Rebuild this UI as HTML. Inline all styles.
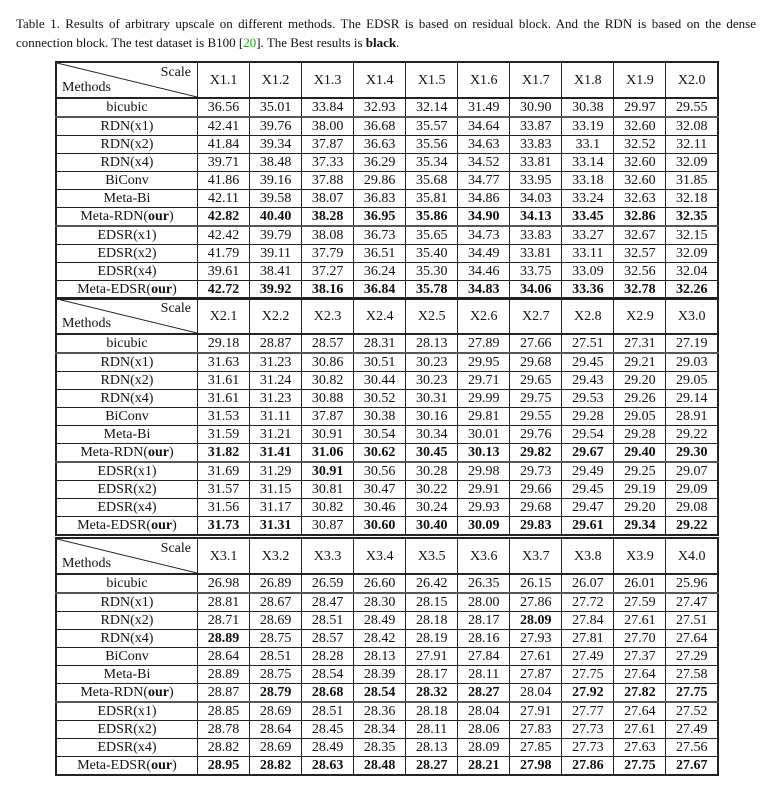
<!DOCTYPE html>
<html><head><meta charset="utf-8">
<style>
body{margin:0;background:#fff;width:776px;height:789px;overflow:hidden;font-family:"Liberation Serif",serif;color:#111}
.cap{position:absolute;left:16px;width:740px;font-size:13px;line-height:19px;white-space:nowrap}
.l1{top:14px;text-align:justify;text-align-last:justify}
.l2{top:33px}
.cap .ref{color:#2a2}
table{position:absolute;left:55px;width:664px;border-collapse:collapse;font-size:14px;table-layout:fixed}
td{border:1px solid #222;height:17px;padding:0;text-align:center;line-height:17px}
td.m{width:140px}
tr.h td{height:34px;border-bottom:2px solid #222}
tr.sep td{border-bottom:2px solid #555}
table{border:2px solid #222}
.b{font-weight:bold}
.hc{position:relative}
.hc svg{position:absolute;left:0;top:0}
.hc .s{position:absolute;right:6px;top:2px;line-height:16px}
.hc .me{position:absolute;left:5px;bottom:1px;line-height:16px}
</style></head><body>
<div class="cap l1">Table 1. Results of arbitrary upscale on different methods. The EDSR is based on residual block. And the RDN is based on the dense</div>
<div class="cap l2">connection block. The test dataset is B100 [<span class="ref">20</span>]. The Best results is <b>black</b>.</div>
<div id="root"></div>
<script>
const methods=["bicubic","RDN(x1)","RDN(x2)","RDN(x4)","BiConv","Meta-Bi","Meta-RDN(our)","EDSR(x1)","EDSR(x2)","EDSR(x4)","Meta-EDSR(our)"];
const scales1=["X1.1","X1.2","X1.3","X1.4","X1.5","X1.6","X1.7","X1.8","X1.9","X2.0"];
const scales2=["X2.1","X2.2","X2.3","X2.4","X2.5","X2.6","X2.7","X2.8","X2.9","X3.0"];
const scales3=["X3.1","X3.2","X3.3","X3.4","X3.5","X3.6","X3.7","X3.8","X3.9","X4.0"];
const vals1=[
["36.56","35.01","33.84","32.93","32.14","31.49","30.90","30.38","29.97","29.55"],
["42.41","39.76","38.00","36.68","35.57","34.64","33.87","33.19","32.60","32.08"],
["41.84","39.34","37.87","36.63","35.56","34.63","33.83","33.1","32.52","32.11"],
["39.71","38.48","37.33","36.29","35.34","34.52","33.81","33.14","32.60","32.09"],
["41.86","39.16","37.88","29.86","35.68","34.77","33.95","33.18","32.60","31.85"],
["42.11","39.58","38.07","36.83","35.81","34.86","34.03","33.24","32.63","32.18"],
["42.82","40.40","38.28","36.95","35.86","34.90","34.13","33.45","32.86","32.35"],
["42.42","39.79","38.08","36.73","35.65","34.73","33.83","33.27","32.67","32.15"],
["41.79","39.11","37.79","36.51","35.40","34.49","33.81","33.11","32.57","32.09"],
["39.61","38.41","37.27","36.24","35.30","34.46","33.75","33.09","32.56","32.04"],
["42.72","39.92","38.16","36.84","35.78","34.83","34.06","33.36","32.78","32.26"]];
const vals2=[
["29.18","28.87","28.57","28.31","28.13","27.89","27.66","27.51","27.31","27.19"],
["31.63","31.23","30.86","30.51","30.23","29.95","29.68","29.45","29.21","29.03"],
["31.61","31.24","30.82","30.44","30.23","29.71","29.65","29.43","29.20","29.05"],
["31.61","31.23","30.88","30.52","30.31","29.99","29.75","29.53","29.26","29.14"],
["31.53","31.11","37.87","30.38","30.16","29.81","29.55","29.28","29.05","28.91"],
["31.59","31.21","30.91","30.54","30.34","30.01","29.76","29.54","29.28","29.22"],
["31.82","31.41","31.06","30.62","30.45","30.13","29.82","29.67","29.40","29.30"],
["31.69","31.29","30.91","30.56","30.28","29.98","29.73","29.49","29.25","29.07"],
["31.57","31.15","30.81","30.47","30.22","29.91","29.66","29.45","29.19","29.09"],
["31.56","31.17","30.82","30.46","30.24","29.93","29.68","29.47","29.20","29.08"],
["31.73","31.31","30.87","30.60","30.40","30.09","29.83","29.61","29.34","29.22"]];
const vals3=[
["26.98","26.89","26.59","26.60","26.42","26.35","26.15","26.07","26.01","25.96"],
["28.81","28.67","28.47","28.30","28.15","28.00","27.86","27.72","27.59","27.47"],
["28.71","28.69","28.51","28.49","28.18","28.17","28.09","27.84","27.61","27.51"],
["28.89","28.75","28.57","28.42","28.19","28.16","27.93","27.81","27.70","27.64"],
["28.64","28.51","28.28","28.13","27.91","27.84","27.61","27.49","27.37","27.29"],
["28.89","28.75","28.54","28.39","28.17","28.11","27.87","27.75","27.64","27.58"],
["28.87","28.79","28.68","28.54","28.32","28.27","28.04","27.92","27.82","27.75"],
["28.85","28.69","28.51","28.36","28.18","28.04","27.91","27.77","27.64","27.52"],
["28.78","28.64","28.45","28.34","28.11","28.06","27.83","27.73","27.61","27.49"],
["28.82","28.69","28.49","28.35","28.13","28.09","27.85","27.73","27.63","27.56"],
["28.95","28.82","28.63","28.48","28.27","28.21","27.98","27.86","27.75","27.67"]];
const all=[0,1,2,3,4,5,6,7,8,9];
const bold1={6:all,10:all};
const bold2={6:all,7:[2],10:[0,1,3,4,5,6,7,8,9]};
const bold3={2:[6],3:[0],6:[1,2,3,4,5,7,8,9],10:all};
const tables=[[scales1,vals1,bold1,61],[scales2,vals2,bold2,297],[scales3,vals3,bold3,537]];
const root=document.getElementById('root');
tables.forEach((t,ti)=>{
  const [sc,vals,bold,top]=t;
  const tb=document.createElement('table');
  
  
  tb.style.top=top+'px';
  const hr=document.createElement('tr');hr.className='h';
  const hc=document.createElement('td');hc.className='m hc';
  
  
  hc.innerHTML='<svg width="140" height="34"><line x1="0" y1="0" x2="140" y2="34" stroke="#222" stroke-width="1"/></svg><span class="s">Scale</span><span class="me">Methods</span>';
  hr.appendChild(hc);
  sc.forEach(s=>{const c=document.createElement('td');c.textContent=s;
    
    
    hr.appendChild(c);});
  tb.appendChild(hr);
  methods.forEach((m,ri)=>{
    const r=document.createElement('tr');
    if(ri===0||ri===6) r.className='sep';
    
    
    const mc=document.createElement('td');mc.className='m';
    if(m.endsWith('(our)')) mc.innerHTML=m.replace('(our)','(<b>our</b>)'); else mc.textContent=m;
    
    
    r.appendChild(mc);
    vals[ri].forEach((v,ci)=>{const c=document.createElement('td');c.textContent=v;
      if(bold[ri]&&bold[ri].includes(ci)) c.className='b';
      
      
      r.appendChild(c);});
    tb.appendChild(r);
  });
  root.appendChild(tb);
});
</script>
</body></html>
